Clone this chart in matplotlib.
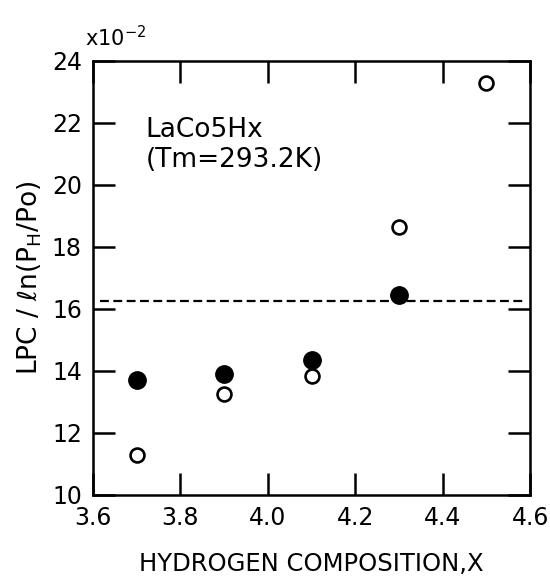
import numpy as np
import matplotlib.pyplot as plt

plt.rcParams['font.family'] = ['DejaVu Sans']

# open circles
x_open = [3.7, 3.9, 4.1, 4.3, 4.5]
y_open = [11.3, 13.25, 13.85, 18.65, 23.3]
# filled circles
x_fill = [3.7, 3.9, 4.1, 4.3]
y_fill = [13.7, 13.9, 14.35, 16.45]
# dashed reference level
y_ref = 16.27

xticks = [3.6, 3.8, 4.0, 4.2, 4.4, 4.6]
yticks = [10, 12, 14, 16, 18, 20, 22, 24]

fig = plt.figure(figsize=(5.5, 5.85), dpi=100)
ax = fig.add_axes([0.169, 0.154, 0.795, 0.742])

ax.plot(x_open, y_open, 'o', ms=10, mfc='white', mec='black', mew=1.9, ls='none')
ax.plot(x_fill, y_fill, 'o', ms=12.5, mfc='black', mec='black', ls='none')
ax.axhline(y_ref, xmin=0.015, xmax=0.99, color='black', ls=(0, (4, 2)), lw=1.6)

ax.set_xlim(3.6, 4.6)
ax.set_ylim(10, 24)
ax.set_xticks(xticks)
ax.set_yticks(yticks)
ax.set_xticklabels(['3.6', '3.8', '4.0', '4.2', '4.4', '4.6'])
ax.tick_params(direction='in', length=16, width=1.8, labelsize=17,
               top=True, right=True, pad=8)
for s in ax.spines.values():
    s.set_linewidth(1.8)

ax.set_xlabel('HYDROGEN COMPOSITION,X', fontsize=17.5, labelpad=16)
ax.set_ylabel('LPC / ℓn(P$_\\mathregular{H}$/Po)', fontsize=19, labelpad=6)

ax.text(0.12, 0.87, 'LaCo5Hx\n(Tm=293.2K)', transform=ax.transAxes,
        fontsize=19, va='top', ha='left', linespacing=1.2)
fig.text(0.155, 0.915, r'x10$^{-2}$', fontsize=15, ha='left', va='bottom')

fig.savefig('out.png', dpi=100)
